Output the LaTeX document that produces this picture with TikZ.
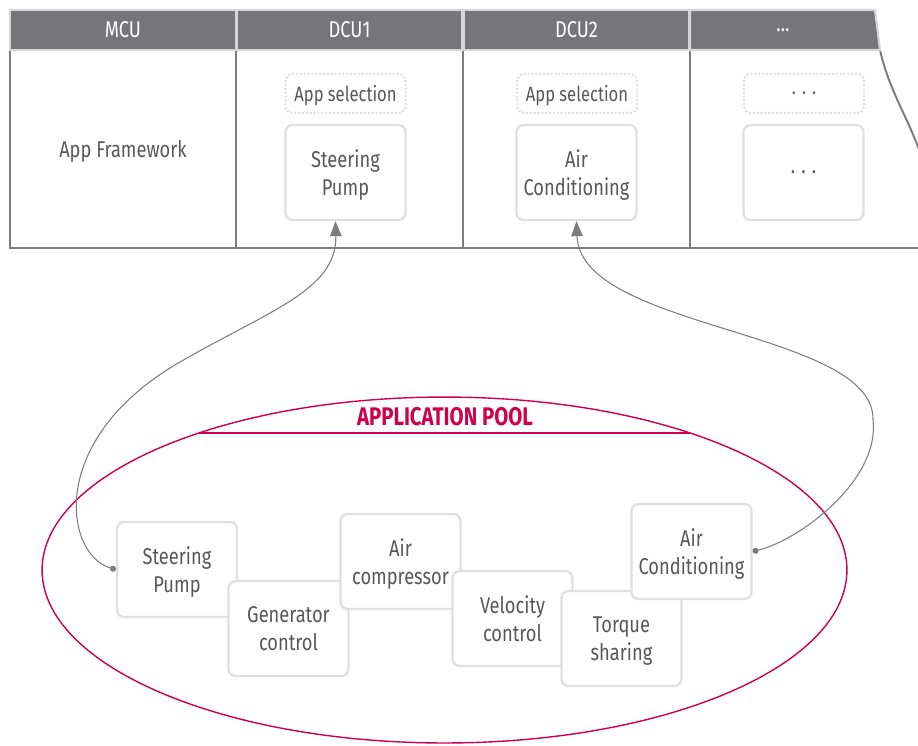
\documentclass[tikz,border=0pt]{standalone}
\usepackage{fontspec}
\setmainfont{Fira Sans}[FakeStretch=0.8]
\usepackage{xcolor}
\usepackage{tikz}
\usetikzlibrary{arrows.meta,positioning}

\definecolor{hdrgray}{RGB}{118,118,122}
\definecolor{gridlight}{RGB}{214,214,216}
\definecolor{linegray}{RGB}{124,124,126}
\definecolor{boxgray}{RGB}{224,224,226}
\definecolor{txtgray}{RGB}{88,88,90}
\definecolor{poolred}{RGB}{208,0,78}

\newcommand\appfont{\fontsize{13}{15.9}\selectfont}
\newcommand\moredots{.\hspace{3.5pt}.\hspace{3.5pt}.}

\begin{document}
\begin{tikzpicture}[
    x=0.02cm, y=-0.02cm,
    hdr/.style={draw=gridlight, line width=1.2pt, fill=hdrgray, text=white, minimum width=4.52cm, minimum height=0.8cm, font=\appfont},
    app/.style={draw=boxgray, line width=1.3pt, fill=white, rounded corners=4pt, minimum width=2.4cm, minimum height=1.9cm, align=center, text=txtgray, font=\appfont, text depth=0pt},
    sel/.style={app, dash pattern=on 1.1pt off 1.1pt, minimum height=0.78cm, font=\fontsize{11.8}{14}\selectfont},
    arr/.style={{Circle[length=1.2mm]}-{Triangle[length=3mm, width=2.3mm]}, draw=linegray, line width=0.6pt},
    pool/.style={draw=poolred, line width=0.8pt},
]
\clip (0,0) rectangle (918,745);

% Unit table
\draw[linegray, line width=1.1pt] (880,50) .. controls (892,105) and (926,140) .. (930,200)
    .. controls (932,232) and (926,248) .. (918,248) -- (10,248) -- (10,50);
\foreach \x in {236,463,690}
    \draw[linegray, line width=1.5pt] (\x,50) -- (\x,248);
\node[hdr] (mcu) at (123,30) {MCU};
\node[hdr] (dcu1) at (349.5,30) {DCU1};
\node[hdr] (dcu2) at (576.5,30) {DCU2};
\draw[draw=gridlight, line width=1.2pt, fill=hdrgray] (690,10) -- (875,10) -- (880,50) -- (690,50) -- cycle;
\node[text=white, font=\appfont] (dcun) at (783,30) {...};

\node[text=txtgray, font=\appfont] (frame) at (123,151) {App Framework};

% Apps running on the units
\node[sel] (sel1) at (345.5,93.5) {App selection};
\node[app] (app1) at (345.5,172.5) {Steering\\Pump};
\node[sel] (sel2) at (577,93.5) {App selection};
\node[app] (app2) at (576.5,172.5) {Air\\Conditioning};
\node[sel] (sel3) at (804,93.5) {\moredots};
\node[app] (app3) at (803.5,172.5) {\moredots};

% Application pool
\draw[pool] (444.5,570) ellipse [x radius=8.05cm, y radius=3.46cm];
\begin{scope}
    \clip (444.5,570) ellipse [x radius=8.05cm, y radius=3.46cm];
    \draw[pool] (0,433) -- (918,433);
\end{scope}
\node[text=poolred, font=\fontsize{14.5}{16}\selectfont\bfseries] (pooltitle) at (445,417) {APPLICATION POOL};

\node[app] (pSteer) at (177,569.5) {Steering\\Pump};
\node[app] (pGen) at (288.5,628.5) {Generator\\control};
\node[app] (pAir) at (400.5,561.5) {Air\\compressor};
\node[app] (pVel) at (512.5,618.5) {Velocity\\control};
\node[app] (pTorque) at (621.5,638.5) {Torque\\sharing};
\node[app] (pAC) at (691.5,551.5) {Air\\Conditioning};

% Deployment arrows
\draw[arr] (pSteer.west) .. controls (65,555) and (45,440) .. (180,362)
    .. controls (270,310) and (337,290) .. ([shift={(-10,0)}]app1.south);
\draw[arr] (pAC.east) .. controls (800,540) and (880,480) .. (873,420)
    .. controls (875,330) and (580,330) .. (app2.south);
\end{tikzpicture}
\end{document}
